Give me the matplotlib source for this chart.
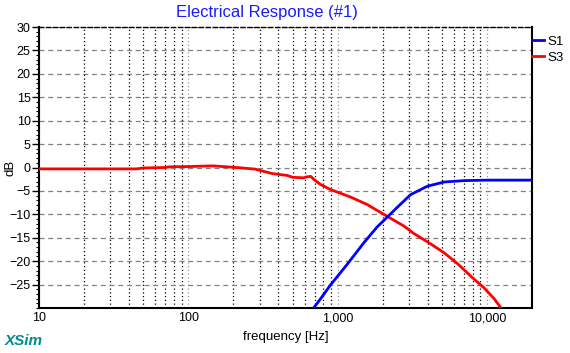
import matplotlib
matplotlib.use('Agg')
import matplotlib.pyplot as plt
from matplotlib.ticker import FixedLocator, MultipleLocator, NullFormatter

plt.rcParams['font.family'] = ['Liberation Sans', 'DejaVu Sans']

# S3 (red)
s3_freq = [10, 20, 45, 50, 70, 75, 100, 145, 180, 220, 280, 300, 365, 460, 500,
           590, 620, 660, 690, 765, 894, 1217, 1574, 2036, 2775, 3238, 4188,
           5150, 6330, 7780, 9550, 11150, 12400]
s3_db = [-0.3, -0.3, -0.3, -0.1, 0.0, 0.15, 0.2, 0.35, 0.15, -0.05, -0.35, -0.6, -1.3,
         -1.7, -2.1, -2.2, -2.0, -1.9, -2.5, -3.6, -4.7, -6.3, -7.9, -10.0, -12.5,
         -14.1, -16.3, -18.2, -20.5, -23.2, -25.7, -28.0, -30.0]

# S1 (blue)
s1_freq = [690, 765, 894, 1156, 1494, 1836, 2146, 2506, 3076, 3980, 5150, 7020,
           10000, 20000]
s1_db = [-30.0, -28.1, -25.1, -20.7, -16.1, -12.7, -10.6, -8.5, -5.8, -4.0, -3.1,
         -2.8, -2.7, -2.7]

x_ticks = [10, 100, 1000, 10000]
x_labels = ['10', '100', '1,000', '10,000']
y_ticks = list(range(-25, 31, 5))

fig = plt.figure(figsize=(5.7, 3.53), dpi=100)
ax = fig.add_axes([39 / 570, 1 - 308 / 353, (532 - 39) / 570, (308 - 27) / 353])

ax.plot(s1_freq, s1_db, color='#0000ff', lw=2, label='S1', zorder=4)
ax.plot(s3_freq, s3_db, color='#ff0000', lw=2, label='S3', zorder=3)

ax.set_xscale('log')
ax.set_xlim(10, 20000)
ax.set_ylim(-30, 30)

ax.xaxis.set_major_locator(FixedLocator(x_ticks))
ax.set_xticklabels(x_labels)
minor = [m * d for d in [10, 100, 1000, 10000] for m in range(2, 10) if m * d < 20000]
ax.xaxis.set_minor_locator(FixedLocator(minor))
ax.xaxis.set_minor_formatter(NullFormatter())
ax.tick_params(axis='x', which='both', length=0, pad=3, labelsize=9)

ax.set_yticks(y_ticks)
ax.yaxis.set_minor_locator(MultipleLocator(1))
ax.tick_params(axis='y', which='major', length=5, width=1, labelsize=9, pad=1)
ax.tick_params(axis='y', which='minor', length=2.5, width=0.8)

# grid
ax.grid(axis='y', which='major', color='#808080', linestyle=(0, (4, 3)), lw=0.9)
ax.grid(axis='x', which='minor', color='black', linestyle=(0, (1, 2)), lw=0.9)
ax.grid(axis='x', which='major', color='#999999', linestyle=(0, (1, 2)), lw=0.9)
ax.set_axisbelow(True)

for side in ['left', 'bottom', 'right']:
    ax.spines[side].set_linewidth(1.5)
ax.spines['top'].set_linestyle((0, (3, 2)))
ax.spines['top'].set_linewidth(1.0)

ax.set_xlabel('frequency [Hz]', fontsize=9.5, labelpad=5)
fig.text(11 / 570, 1 - 168 / 353, 'dB', fontsize=9.5, rotation=90,
         ha='center', va='center')

fig.text(267 / 570, 1 - 13 / 353, 'Electrical Response (#1)', color='#1a1aff',
         fontsize=12, ha='center', va='center')
fig.text(5 / 570, 1 - 341 / 353, 'XSim', color='#008b8b', fontsize=11,
         fontweight='bold', fontstyle='italic', ha='left', va='center')

ax.legend(loc='upper left', bbox_to_anchor=(1.0, 0.97), frameon=False,
          handlelength=0.9, handletextpad=0.3, borderaxespad=0, borderpad=0,
          labelspacing=0.3, fontsize=9.5)

fig.savefig('out.png', dpi=100)
